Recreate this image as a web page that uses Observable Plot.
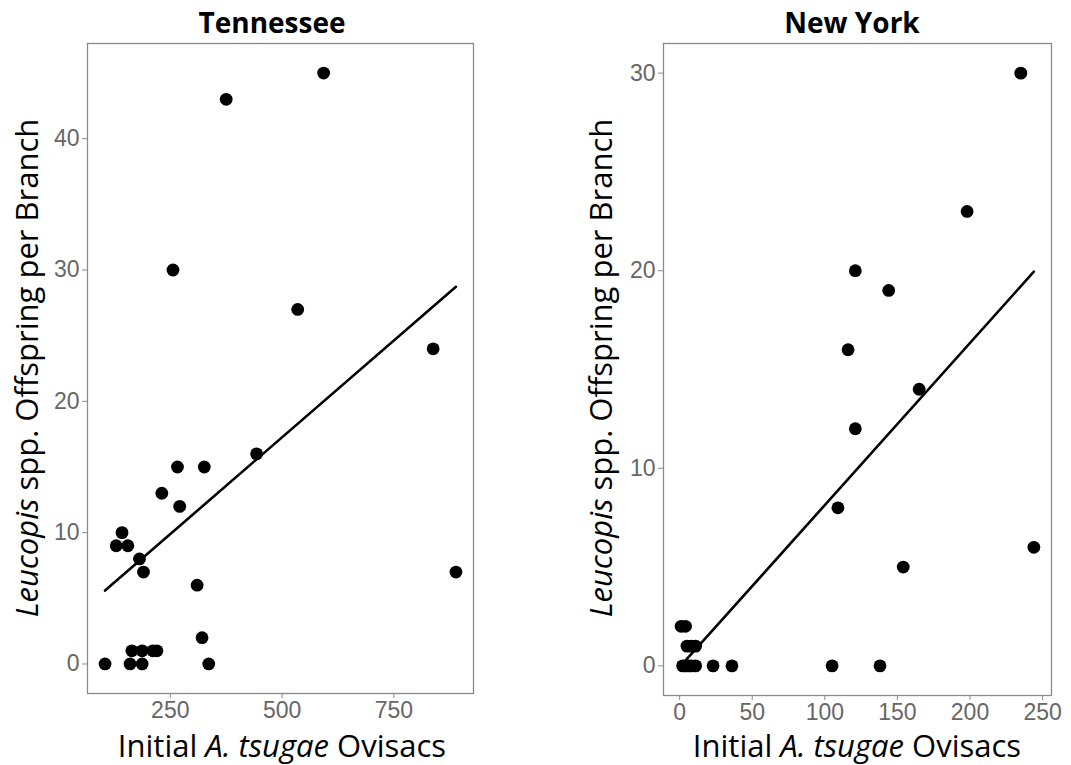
<!DOCTYPE html>
<html><head><meta charset="utf-8">
<script src="https://cdn.jsdelivr.net/npm/d3@7"></script>
<script src="https://cdn.jsdelivr.net/npm/@observablehq/plot@0.6"></script>
<style>
body{margin:0;background:#fff;}
#wrap{position:relative;width:1071px;height:765px;overflow:hidden;background:#fff;}
#wrap svg{position:absolute;top:0;}
</style></head><body><div id="wrap"></div>
<script>
// Tennessee
const tnOvisacs   = [104,129,142,155,160,164,181,187,187,190,211,220,231,256,266,271,310,321,326,336,375,443,535,593,838,889];
const tnOffspring = [0,  9,  10, 9,  0,  1,  8,  0,  1,  7,  1,  1,  13, 30, 15, 12, 6,  2,  15, 0,  43, 16, 27, 45, 24, 7];
// New York
const nyOvisacs   = [2,4,6,8,11,23,36,105,138, 5,8,11, 1,4, 109,121,116,121,144,165,198,235,244,154];
const nyOffspring = [0,0,0,0,0, 0, 0, 0,  0,   1,1,1,  2,2, 8,  12, 16, 20, 19, 14, 23, 30, 6,  5];

const tnXTicks = [250, 500, 750];
const tnYTicks = [0, 10, 20, 30, 40];
const nyXTicks = [0, 50, 100, 150, 200, 250];
const nyYTicks = [0, 10, 20, 30];
const panelTitles = ["Tennessee", "New York"];
const yTitle = [["Leucopis", true], [" spp. Offspring per Branch", false]];
const xTitle = [["Initial ", false], ["A. tsugae", true], [" Ovisacs", false]];

function expand(v, f = 0.05) {
  const [a, b] = d3.extent(v); const r = b - a; return [a - f * r, b + f * r];
}

const wrap = document.getElementById("wrap");

function panel(o) {
  const data = o.x.map((v, i) => ({x: v, y: o.y[i]}));
  const svg = Plot.plot({
    width: o.width, height: 765,
    marginLeft: o.ml, marginRight: o.mr, marginTop: 43, marginBottom: o.mb,
    style: {fontFamily: "'Liberation Sans', Arial, sans-serif", fontSize: "23px", background: "white", overflow: "visible"},
    x: {domain: expand(o.x)},
    y: {domain: expand(o.y)},
    marks: [
      Plot.axisX({ticks: o.xTicks, tickSize: 5, tickPadding: 3, stroke: "#8a8a8a", fill: "#666", label: null}),
      Plot.axisY({ticks: o.yTicks, tickSize: 5, tickPadding: 3, stroke: "#8a8a8a", fill: "#666", label: null}),
      Plot.frame({stroke: "#8a8a8a", strokeWidth: 1.3}),
      Plot.dot(data, {x: "x", y: "y", r: 6.4, fill: "black", stroke: "none"}),
      Plot.linearRegressionY(data, {x: "x", y: "y", ci: 0, stroke: "black", strokeWidth: 2.6})
    ]
  });
  svg.style.left = o.left + "px";
  const s = d3.select(svg);
  s.append("text").attr("x", o.titleX).attr("y", 33)
    .attr("text-anchor", "middle").attr("font-family", "'Open Sans', sans-serif")
    .attr("font-weight", 700).attr("font-size", 28).attr("fill", "black").text(o.title);
  const xt = s.append("text").attr("x", o.xTitleX).attr("y", 757)
    .attr("text-anchor", "middle").attr("font-family", "'Open Sans', sans-serif")
    .attr("font-size", 31).attr("fill", "black");
  xTitle.forEach(([t, it]) => xt.append("tspan").attr("font-style", it ? "italic" : "normal").text(t));
  const yt = s.append("text").attr("transform", `translate(${o.yTitleX},368) rotate(-90)`)
    .attr("text-anchor", "middle").attr("font-family", "'Open Sans', sans-serif")
    .attr("font-size", 31).attr("fill", "black");
  yTitle.forEach(([t, it]) => yt.append("tspan").attr("font-style", it ? "italic" : "normal").text(t));
  wrap.appendChild(svg);
}

panel({x: tnOvisacs, y: tnOffspring, xTicks: tnXTicks, yTicks: tnYTicks,
  left: 0, width: 535, ml: 87, mr: 62, mb: 72,
  title: panelTitles[0], titleX: 272, xTitleX: 282, yTitleX: 38});
panel({x: nyOvisacs, y: nyOffspring, xTicks: nyXTicks, yTicks: nyYTicks,
  left: 535, width: 536, ml: 128, mr: 20, mb: 70,
  title: panelTitles[1], titleX: 317, xTitleX: 322, yTitleX: 77});
</script></body></html>
